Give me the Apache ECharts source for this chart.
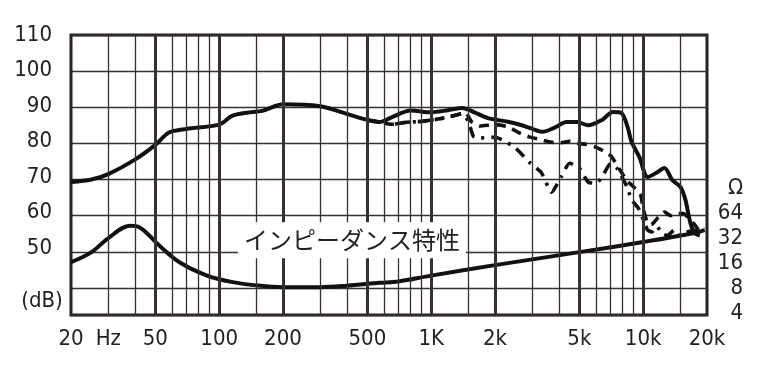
<!DOCTYPE html>
<html>
<head>
<meta charset="utf-8">
<script src="https://cdn.jsdelivr.net/npm/echarts@6/dist/echarts.min.js"></script>
<style>
  html, body { margin: 0; padding: 0; background: #fff; }
  #chart { width: 776px; height: 365px; }
</style>
</head>
<body>
<div id="chart"></div>
<script>
// ---- data ----
const xTickValues = [20, 30, 50, 100, 200, 500, 1000, 2000, 5000, 10000, 20000];
const xTickLabels = ['20', 'Hz', '50', '100', '200', '500', '1K', '2k', '5k', '10k', '20k'];
const dbTickValues = [110, 100, 90, 80, 70, 60, 50];
const dbTickLabels = ['110', '100', '90', '80', '70', '60', '50'];
const ohmTickLabels = ['4', '8', '16', '32', '64', 'Ω'];
const gridThinFreq = [30, 40, 60, 70, 80, 90, 150, 300, 400, 600, 700, 800, 900, 1500, 3000, 4000, 6000, 7000, 8000, 9000, 15000];
const gridThickFreq = [50, 100, 200, 500, 1000, 2000, 5000, 10000];

const onAxisFreq = [20, 25, 30, 40, 50, 58, 70, 100, 115, 135, 160, 200, 300, 370, 500, 570, 650, 800, 1000, 1200, 1400, 1600, 1850, 2300, 2650, 3000, 3350, 3800, 4350, 4900, 5500, 6400, 7200, 7900, 8450, 8800, 9600, 10500, 11500, 12600, 13700, 15000, 15800, 16700, 17500, 18500];
const onAxisDb = [69.3, 70.0, 71.5, 75.5, 79.6, 83.0, 84.0, 85.2, 87.6, 88.5, 89.0, 90.8, 90.3, 88.8, 86.5, 85.9, 87.2, 89.1, 88.6, 89.2, 89.8, 88.6, 87.0, 86.0, 85.1, 84.0, 83.2, 84.3, 85.9, 85.9, 85.0, 86.5, 88.7, 88.4, 84.5, 80.5, 76.2, 70.7, 71.8, 73.2, 69.9, 67.9, 64.5, 58.0, 55.2, 54.5];

const dashFreq = [500, 570, 650, 750, 900, 1100, 1300, 1450, 1550, 1700, 2000, 2300, 2600, 2900, 3300, 3700, 4100, 4500, 4900, 5400, 6000, 6700, 7100, 7800, 8400, 9000, 9700, 10000, 10400, 10900, 11800, 12600, 13500, 14500, 15500, 16500, 17500, 18500, 19200];
const dashDb = [86.5, 85.9, 85.3, 85.8, 86.1, 86.8, 87.8, 88.5, 86.0, 84.8, 85.2, 84.6, 82.9, 81.8, 81.0, 80.3, 80.2, 80.6, 80.0, 79.7, 78.9, 77.5, 76.3, 72.5, 69.6, 68.0, 66.0, 62.0, 58.5, 57.5, 59.6, 61.0, 60.0, 60.6, 60.6, 59.0, 57.5, 55.5, 55.0];

const dashDotFreq = [500, 570, 650, 750, 900, 1100, 1300, 1400, 1500, 1580, 1700, 2000, 2500, 2900, 3300, 3700, 4100, 4500, 5000, 5500, 6000, 6400, 7000, 7500, 8400, 8800, 9500, 10000, 10500, 11000, 11600, 12300, 13000, 14000, 14600, 15500, 17000, 18500, 19500];
const dashDotDb = [86.5, 85.9, 85.3, 85.8, 86.1, 86.8, 87.8, 88.2, 86.0, 82.0, 81.5, 81.7, 78.7, 74.8, 72.0, 66.5, 70.7, 74.5, 73.2, 69.3, 69.0, 70.7, 74.3, 73.2, 67.9, 64.5, 62.0, 59.0, 56.0, 55.5, 57.0, 55.0, 54.5, 56.0, 54.5, 55.2, 55.8, 56.0, 56.5];

const impFreq = [20, 25, 30, 38, 42, 52, 65, 87, 116, 150, 200, 300, 400, 570, 700, 1000, 2000, 5000, 10000, 17500, 19500];
const impDb = [47.1, 49.9, 53.8, 57.2, 56.8, 51.8, 47.1, 43.5, 41.6, 40.7, 40.2, 40.2, 40.6, 41.4, 41.8, 43.4, 46.3, 49.9, 52.7, 55.2, 56.0];

const impLabelText = 'インピーダンス特性';
const impLabelAt = [423, 53.2];

// ---- build ----
const pair = (f, d) => f.map((v, i) => [v, d[i]]);
const INK = '#111111';
const GRID = '#3a2e2e';
const FONT = "'Liberation Sans Narrow', 'DejaVu Sans Condensed', 'Roboto Condensed', 'Liberation Sans', sans-serif";

const gridLines = gridThinFreq.map(f => ({ xAxis: f, lineStyle: { width: 1.3 } }))
  .concat(gridThickFreq.map(f => ({ xAxis: f, lineStyle: { width: 3 } })));

function near(v, arr) { return arr.findIndex(a => Math.abs(a - v) < 1e-6 * Math.max(1, Math.abs(a))); }

const chart = echarts.init(document.getElementById('chart'), null, { renderer: 'canvas' });
chart.setOption({
  animation: false,
  backgroundColor: '#ffffff',
  grid: { left: 71, right: 69, top: 35, bottom: 50, show: true, borderWidth: 3, borderColor: '#2a2020', backgroundColor: 'transparent' },
  xAxis: {
    type: 'log', logBase: 10, min: 20, max: 20000,
    axisLine: { show: false }, axisTick: { show: false }, splitLine: { show: false }, minorSplitLine: { show: false },
    axisLabel: {
      customValues: xTickValues,
      showMinLabel: true, showMaxLabel: true,
      formatter: v => { const i = near(v, xTickValues); return i >= 0 ? xTickLabels[i] : ''; },
      fontFamily: FONT, fontSize: 22, color: '#222', margin: 13
    }
  },
  yAxis: [
    {
      type: 'value', min: 32.5, max: 110, minInterval: 10, maxInterval: 10,
      axisLine: { show: false }, axisTick: { show: false }, axisLabel: { show: false },
      splitLine: { show: true, lineStyle: { color: GRID, width: 1.3 } }
    },
    {
      type: 'value', position: 'left', min: 31.1, max: 110, minInterval: 10, maxInterval: 10,
      axisLine: { show: false }, axisTick: { show: false }, splitLine: { show: false },
      name: '(dB)', nameLocation: 'start', nameGap: -25,
      nameTextStyle: { fontFamily: FONT, fontSize: 22, color: '#222', padding: [0, 58, 0, 0] },
      axisLabel: {
        margin: 19, fontFamily: FONT, fontSize: 22, color: '#222',
        formatter: v => { const i = near(v, dbTickValues); return i >= 0 ? dbTickLabels[i] : ''; }
      }
    },
    {
      type: 'value', position: 'right', min: -0.08, max: 11.12, minInterval: 1, maxInterval: 1,
      axisLine: { show: false }, axisTick: { show: false }, splitLine: { show: false },
      axisLabel: {
        margin: 36, align: 'right', fontFamily: FONT, fontSize: 22, color: '#222',
        formatter: v => { const r = Math.round(v); return (Math.abs(v - r) < 1e-6 && r >= 0 && r < ohmTickLabels.length) ? ohmTickLabels[r] : ''; }
      }
    }
  ],
  series: [
    {
      name: 'grid', type: 'line', data: [], z: 1, silent: true,
      markLine: {
        silent: true, symbol: ['none', 'none'], animation: false,
        label: { show: false },
        lineStyle: { color: GRID, type: 'solid', width: 1.3 },
        data: gridLines
      }
    },
    {
      name: 'impedance', type: 'line', data: pair(impFreq, impDb), yAxisIndex: 0, z: 4,
      smooth: 0.35, showSymbol: false, symbol: 'none',
      lineStyle: { color: INK, width: 4 },
      markPoint: {
        symbol: 'rect', symbolSize: 1, itemStyle: { color: 'transparent' },
        data: [{ coord: impLabelAt, value: impLabelText }],
        label: {
          show: true, position: 'inside', formatter: () => impLabelText,
          fontFamily: "'Noto Sans CJK JP', sans-serif", fontSize: 24, lineHeight: 24, color: '#222',
          backgroundColor: '#ffffff', padding: [6, 6]
        }
      }
    },
    {
      name: 'dashdot', type: 'line', data: pair(dashDotFreq, dashDotDb), z: 3,
      smooth: 0.2, showSymbol: false, symbol: 'none',
      lineStyle: { color: INK, width: 3.6, type: [11, 7, 3, 7] }
    },
    {
      name: 'dash', type: 'line', data: pair(dashFreq, dashDb), z: 3,
      smooth: 0.2, showSymbol: false, symbol: 'none',
      lineStyle: { color: INK, width: 3.6, type: [10, 7] }
    },
    {
      name: 'onaxis', type: 'line', data: pair(onAxisFreq, onAxisDb), z: 4,
      smooth: 0.3, showSymbol: false, symbol: 'none',
      lineStyle: { color: INK, width: 4 }
    }
  ]
});
</script>
</body>
</html>
